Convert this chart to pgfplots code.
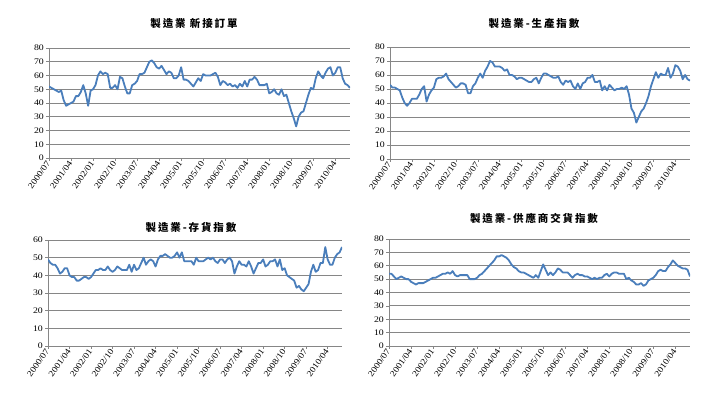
\documentclass[border=0pt]{standalone}
\usepackage{pgfplots}
\pgfplotsset{compat=1.18}
\usepackage{fontspec}
\setmainfont{Liberation Serif}
\newfontfamily\tickfont[FakeStretch=1.15]{Liberation Serif}
\newfontfamily\cjk[LetterSpace=18]{Noto Sans CJK TC}
\definecolor{seriecol}{RGB}{74,126,187}
\definecolor{gridc}{RGB}{134,134,134}
\pgfplotsset{
  panel/.style={
    scale only axis,
    axis x line*=bottom, axis y line*=left,
    xmin=0, xmax=123, ymin=0,
    ymajorgrids,
    grid style={gridc, line width=0.8pt},
    axis line style={gridc, line width=0.8pt},
    xtick={0,9,...,117},
    xticklabels={2000/07,2001/04,2002/01,2002/10,2003/07,2004/04,2005/01,2005/10,2006/07,2007/04,2008/01,2008/10,2009/07,2010/04},
    tick style={gridc, line width=0.6pt},
    major tick length=3pt,
    tick align=outside,
    xticklabel style={font=\tickfont\fontsize{8.5}{9}\selectfont, rotate=55, anchor=east, inner sep=1pt},
    yticklabel style={font=\tickfont\fontsize{8.5}{9}\selectfont, inner sep=2pt},
    /pgf/number format/assume math mode=true,
  },
  dline/.style={seriecol, line width=1.8pt, no markers, line join=round},
}
\begin{document}
\begin{tikzpicture}[x=1pt,y=1pt]
\path[use as bounding box] (0,0) rectangle (717,411);
% panel 1
\begin{axis}[panel, at={(49pt,253pt)}, anchor=south west, width=301pt, height=110pt, ymax=80, ytick={0,10,...,80}]
\addplot[dline] table[x expr=\coordindex, y index=0, header=false, row sep=\\] {
52\\51\\50\\49\\48\\49\\42\\38\\39\\40\\
41\\45\\45\\48\\53\\47\\38\\49\\50\\53\\
60\\63\\61\\62\\61\\51\\51\\53\\50\\59\\
58\\52\\47\\47\\53\\54\\56\\61\\61\\62\\
66\\70\\71\\69\\66\\65\\67\\64\\61\\63\\
62\\58\\58\\60\\66\\57\\57\\56\\54\\52\\
55\\58\\56\\61\\60\\60\\60\\61\\62\\59\\
53\\56\\55\\53\\54\\52\\53\\51\\54\\52\\
56\\52\\57\\57\\59\\57\\53\\53\\53\\54\\
47\\48\\50\\47\\46\\50\\45\\46\\40\\34\\
29\\23\\30\\33\\34\\40\\46\\51\\50\\58\\
63\\60\\58\\62\\65\\66\\60\\62\\66\\66\\
58\\54\\53\\51\\
};
\end{axis}
% panel 2
\begin{axis}[panel, at={(390pt,252pt)}, anchor=south west, width=300pt, height=112pt, ymax=80, ytick={0,10,...,80}]
\addplot[dline] table[x expr=\coordindex, y index=0, header=false, row sep=\\] {
53\\51\\51\\50\\49\\44\\40\\38\\40\\43\\
43\\43\\46\\50\\52\\41\\46\\49\\51\\57\\
58\\58\\59\\61\\57\\55\\53\\51\\52\\54\\
54\\53\\47\\47\\52\\54\\58\\61\\58\\63\\
66\\70\\69\\66\\66\\66\\65\\63\\64\\60\\
60\\59\\57\\58\\58\\57\\56\\55\\55\\57\\
58\\54\\58\\61\\61\\60\\59\\58\\58\\59\\
55\\53\\56\\55\\56\\52\\50\\54\\50\\54\\
55\\58\\58\\60\\55\\55\\56\\49\\52\\49\\
53\\51\\49\\50\\50\\51\\50\\52\\46\\36\\
33\\26\\30\\34\\36\\40\\45\\52\\57\\62\\
58\\61\\60\\60\\65\\58\\61\\67\\66\\63\\
57\\60\\57\\56\\
};
\end{axis}
% panel 3
\begin{axis}[panel, at={(48pt,65pt)}, anchor=south west, width=294pt, height=106pt, ymax=60, ytick={0,10,...,60}]
\addplot[dline] table[x expr=\coordindex, y index=0, header=false, row sep=\\] {
49\\47\\46\\46\\44\\41\\42\\44\\44\\40\\
39\\39\\37\\37\\38\\39\\39\\38\\39\\41\\
43\\43\\44\\43\\43\\45\\43\\42\\43\\45\\
44\\43\\43\\43\\46\\42\\46\\43\\44\\47\\
50\\46\\48\\49\\48\\45\\49\\51\\51\\52\\
51\\50\\50\\51\\53\\50\\53\\48\\48\\48\\
48\\46\\50\\48\\48\\48\\49\\50\\49\\50\\
48\\47\\49\\49\\47\\49\\50\\48\\41\\45\\
48\\46\\46\\45\\48\\45\\41\\44\\47\\47\\
49\\45\\46\\48\\48\\49\\45\\49\\43\\44\\
40\\39\\38\\37\\33\\34\\32\\31\\33\\35\\
42\\46\\42\\43\\47\\47\\56\\49\\46\\46\\
50\\52\\53\\56\\
};
\end{axis}
% panel 4
\begin{axis}[panel, at={(389pt,65pt)}, anchor=south west, width=301pt, height=107pt, ymax=80, ytick={0,10,...,80}]
\addplot[dline] table[x expr=\coordindex, y index=0, header=false, row sep=\\] {
54\\54\\52\\50\\51\\52\\51\\50\\50\\48\\
47\\46\\47\\47\\47\\48\\49\\50\\51\\51\\
52\\53\\54\\54\\55\\54\\56\\53\\52\\53\\
53\\53\\53\\50\\50\\50\\51\\53\\54\\56\\
58\\60\\62\\64\\67\\67\\68\\67\\66\\64\\
61\\59\\58\\56\\55\\55\\54\\53\\52\\51\\
53\\51\\56\\61\\57\\53\\55\\53\\55\\58\\
57\\55\\55\\55\\53\\51\\53\\54\\53\\53\\
52\\52\\51\\50\\51\\50\\51\\51\\53\\54\\
52\\54\\55\\55\\54\\54\\54\\50\\51\\49\\
48\\46\\46\\47\\45\\46\\49\\50\\51\\53\\
56\\57\\56\\56\\59\\61\\64\\62\\60\\59\\
58\\58\\57\\52\\
};
\end{axis}
\node[font=\cjk\bfseries\fontsize{10.5}{12}\selectfont] at (194,387) {製造業 新接訂單};
\node[font=\cjk\bfseries\fontsize{10.5}{12}\selectfont] at (534,387) {製造業-生產指數};
\node[font=\cjk\bfseries\fontsize{10.5}{12}\selectfont] at (191,183) {製造業-存貨指數};
\node[font=\cjk\bfseries\fontsize{10.5}{12}\selectfont] at (534,193) {製造業-供應商交貨指數};
\end{tikzpicture}
\end{document}
